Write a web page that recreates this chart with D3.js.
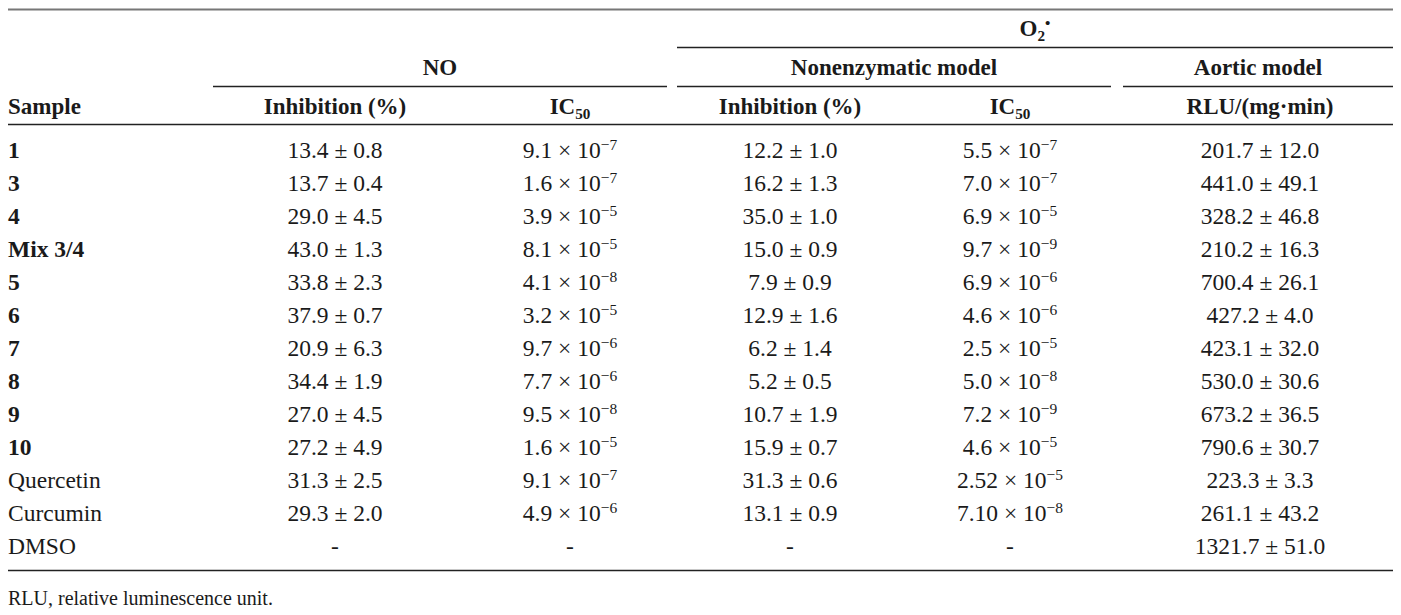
<!DOCTYPE html>
<html>
<head>
<meta charset="utf-8">
<script src="https://cdn.jsdelivr.net/npm/d3@7"></script>
<style>
  body { margin: 0; background: #fff; }
  svg text { font-family: "Liberation Serif", "DejaVu Serif", serif; fill: #1a1a1a; }
</style>
</head>
<body>
<div id="table"></div>
<script>
// Table values
const samples = ['1', '3', '4', 'Mix 3/4', '5', '6', '7', '8', '9', '10', 'Quercetin', 'Curcumin', 'DMSO'];
const boldSamples = ['1', '3', '4', 'Mix 3/4', '5', '6', '7', '8', '9', '10'];

// [mean, sd]; null means "-"
const noInhibition = [[13.4, 0.8], [13.7, 0.4], [29.0, 4.5], [43.0, 1.3], [33.8, 2.3], [37.9, 0.7], [20.9, 6.3], [34.4, 1.9], [27.0, 4.5], [27.2, 4.9], [31.3, 2.5], [29.3, 2.0], null];
const o2Inhibition = [[12.2, 1.0], [16.2, 1.3], [35.0, 1.0], [15.0, 0.9], [7.9, 0.9], [12.9, 1.6], [6.2, 1.4], [5.2, 0.5], [10.7, 1.9], [15.9, 0.7], [31.3, 0.6], [13.1, 0.9], null];
const aorticRLU = [[201.7, 12.0], [441.0, 49.1], [328.2, 46.8], [210.2, 16.3], [700.4, 26.1], [427.2, 4.0], [423.1, 32.0], [530.0, 30.6], [673.2, 36.5], [790.6, 30.7], [223.3, 3.3], [261.1, 43.2], [1321.7, 51.0]];

// IC50 as mantissa e exponent (kept as strings so "7.10" stays "7.10")
const noIC50 = ['9.1e-7', '1.6e-7', '3.9e-5', '8.1e-5', '4.1e-8', '3.2e-5', '9.7e-6', '7.7e-6', '9.5e-8', '1.6e-5', '9.1e-7', '4.9e-6', null];
const o2IC50 = ['5.5e-7', '7.0e-7', '6.9e-5', '9.7e-9', '6.9e-6', '4.6e-6', '2.5e-5', '5.0e-8', '7.2e-9', '4.6e-5', '2.52e-5', '7.10e-8', null];

const columnKeys = ['sample', 'noInh', 'noIC', 'o2Inh', 'o2IC', 'aortic'];
const footnote = 'RLU, relative luminescence unit.';

const width = 1401;
const height = 615;
const left = 8, right = 1393;
const bodySize = 23.5;   // body cells
const headSize = 23;     // bold headers

const svg = d3.select('#table')
    .append('svg')
    .attr('width', width)
    .attr('height', height);

// column centres and row positions
const xCol = d3.scaleOrdinal()
    .domain(columnKeys)
    .range([left, 335, 570, 790, 1010, 1260]);

const yRow = d3.scalePoint()
    .domain(samples)
    .range([150, 546]);

// horizontal rules
const rules = [
    { x1: left, x2: right, y: 9.5, w: 2, c: '#777' },
    { x1: 677, x2: right, y: 47.5, w: 1.5, c: '#222' },
    { x1: 213, x2: 667, y: 86.5, w: 1.5, c: '#222' },
    { x1: 677, x2: 1111, y: 86.5, w: 1.5, c: '#222' },
    { x1: 1123, x2: right, y: 86.5, w: 1.5, c: '#222' },
    { x1: left, x2: right, y: 124.5, w: 1.5, c: '#222' },
    { x1: left, x2: right, y: 570.5, w: 1.5, c: '#222' }
];
svg.append('g').selectAll('line')
    .data(rules)
    .join('line')
    .attr('x1', (d) => d.x1)
    .attr('x2', (d) => d.x2)
    .attr('y1', (d) => d.y)
    .attr('y2', (d) => d.y)
    .attr('stroke', (d) => d.c)
    .attr('stroke-width', (d) => d.w);

// helper: text with optional sub/superscript parts
function addText(g, x, y, parts, opts = {}) {
    const size = opts.size || bodySize;
    const t = g.append('text')
        .attr('x', x)
        .attr('y', y)
        .attr('dy', '0.35em')
        .attr('text-anchor', opts.anchor || 'middle')
        .attr('font-size', size)
        .attr('font-weight', opts.bold ? 'bold' : 'normal');
    parts.forEach((p) => {
        if (typeof p === 'string') {
            t.append('tspan').text(p);
        } else {
            t.append('tspan')
                .attr('font-size', size * 0.66)
                .attr('baseline-shift', p.sup ? size * 0.36 : -size * 0.22)
                .text(p.text);
        }
    });
    return t;
}

// header
const head = svg.append('g').attr('class', 'head');
addText(head, (677 + right) / 2, 28, ['O', { text: '2', sub: true }, { text: '\u2022', sup: true }], { bold: true, size: headSize });
addText(head, (213 + 667) / 2, 67, ['NO'], { bold: true, size: headSize });
addText(head, (677 + 1111) / 2, 67, ['Nonenzymatic model'], { bold: true, size: headSize });
addText(head, (1123 + right) / 2, 67, ['Aortic model'], { bold: true, size: headSize });

const headY = 106;
const headOpts = { bold: true, size: headSize };
addText(head, xCol('sample'), headY, ['Sample'], { ...headOpts, anchor: 'start' });
addText(head, xCol('noInh'), headY, ['Inhibition (%)'], headOpts);
addText(head, xCol('noIC'), headY, ['IC', { text: '50', sub: true }], headOpts);
addText(head, xCol('o2Inh'), headY, ['Inhibition (%)'], headOpts);
addText(head, xCol('o2IC'), headY, ['IC', { text: '50', sub: true }], headOpts);
addText(head, xCol('aortic'), headY, ['RLU/(mg\u00b7min)'], headOpts);

// body cells
const f1 = d3.format('.1f');
const pm = (v) => v ? [`${f1(v[0])} \u00b1 ${f1(v[1])}`] : ['-'];
const sci = (s) => {
    if (!s) return ['-'];
    const [m, e] = s.split('e');
    return [`${m} \u00d7 10`, { text: e.replace('-', '\u2212'), sup: true }];
};

const body = svg.append('g').attr('class', 'body');
samples.forEach((s, i) => {
    const y = yRow(s);
    addText(body, xCol('sample'), y, [s], { anchor: 'start', bold: boldSamples.includes(s) });
    addText(body, xCol('noInh'), y, pm(noInhibition[i]));
    addText(body, xCol('noIC'), y, sci(noIC50[i]));
    addText(body, xCol('o2Inh'), y, pm(o2Inhibition[i]));
    addText(body, xCol('o2IC'), y, sci(o2IC50[i]));
    addText(body, xCol('aortic'), y, pm(aorticRLU[i]));
});

// footnote
addText(svg, left, 598, [footnote], { anchor: 'start', size: 20 });
</script>
</body>
</html>
